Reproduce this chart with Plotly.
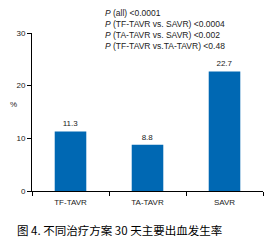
import plotly.graph_objects as go

categories = ["TF-TAVR", "TA-TAVR", "SAVR"]
values = [11.3, 8.8, 22.7]
value_labels = ["11.3", "8.8", "22.7"]
p_lines = [
    "<i>P</i> (all) <0.0001",
    "<i>P</i> (TF-TAVR vs. SAVR) <0.0004",
    "<i>P</i> (TA-TAVR vs. SAVR) <0.002",
    "<i>P</i> (TF-TAVR vs.TA-TAVR) <0.48",
]
caption = "图 4. 不同治疗方案 30 天主要出血发生率"

font = "Liberation Sans, Arial, sans-serif"
fig = go.Figure(go.Bar(
    x=categories, y=values, width=0.41,
    marker=dict(color="#0068B3", line=dict(width=0)),
    text=value_labels, textposition="outside",
    textfont=dict(size=8, color="#222", family=font),
    cliponaxis=False,
))

fig.update_layout(
    width=279, height=240,
    margin=dict(l=32, r=16, t=33, b=49),
    plot_bgcolor="white", paper_bgcolor="white",
    showlegend=False,
    bargap=0.59,
    font=dict(family=font, size=8, color="#222"),
)
fig.update_xaxes(
    type="category", tickson="boundaries",
    showline=True, linecolor="black", linewidth=1,
    ticks="outside", ticklen=4, tickcolor="black",
    showgrid=False, tickfont=dict(size=8, color="#222"),
    ticklabelstandoff=3,
    fixedrange=True,
)
fig.update_yaxes(
    range=[0, 30], tickvals=[0, 10, 20, 30],
    showline=True, linecolor="black", linewidth=1,
    ticks="outside", ticklen=4, tickcolor="black",
    showgrid=False, zeroline=False, tickfont=dict(size=8, color="#222"),
)

fig.add_annotation(
    xref="paper", yref="paper", x=-0.105, y=0.55,
    text="%", showarrow=False, font=dict(size=8, color="#222"),
)
fig.add_annotation(
    xref="paper", yref="paper", x=(103 - 32) / 231, y=1.0 + (33 - 29) / 158,
    xanchor="left", yanchor="middle", align="left",
    text="<br>".join(p_lines), showarrow=False,
    font=dict(size=8.5, color="#222"),
)
fig.add_annotation(
    xref="paper", yref="paper", x=-17 / 231, y=-39 / 158,
    xanchor="left", yanchor="middle",
    text=caption, showarrow=False,
    font=dict(size=11.5, color="#000", family="Noto Sans CJK SC"),
)

fig.write_html("out.html")
